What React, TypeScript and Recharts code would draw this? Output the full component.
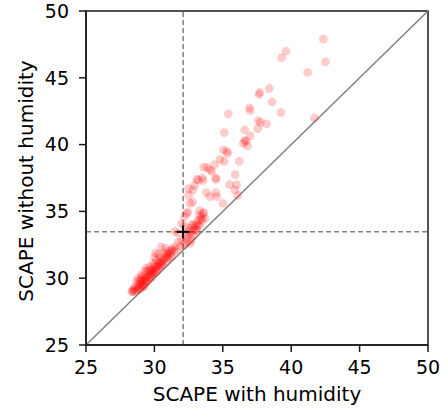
import { ScatterChart, Scatter, XAxis, YAxis, ReferenceLine, ReferenceArea } from 'recharts'

// SCAPE with humidity (x) / without humidity (y)
const scapeWithHumidity = [
  42.35, 39.62, 39.3, 42.5, 41.2, 38.4, 37.7, 37.65, 38.6, 36.95, 37.0, 35.4, 39.25, 41.7, 37.6, 37.75,
  38.2, 37.55, 36.6, 35.1, 37.0, 36.5, 36.7, 36.8, 36.6, 35.05, 35.35, 35.3, 34.8, 34.4, 35.1, 36.2,
  34.2, 35.9, 34.5, 33.6, 33.85, 34.05, 33.1, 33.5, 33.2, 33.55, 32.95, 34.5, 35.5, 36.0, 35.9, 33.8,
  34.5, 34.05, 34.55, 35.0, 32.5, 32.8, 32.5, 36.1, 32.8, 32.6, 32.35, 32.2, 32.45, 33.3, 33.55, 33.45,
  33.2, 33.7, 33.1, 32.85, 32.0, 32.2, 32.6, 31.75, 31.5, 33.1, 32.85, 32.7, 32.6, 32.0, 31.75, 31.5,
  31.25, 31.0, 30.8, 30.5, 31.25, 31.0, 30.75, 30.4, 30.15, 30.0, 29.9, 29.65, 29.4, 29.3, 29.05, 28.8,
  28.7, 28.6, 28.45, 28.35, 29.2, 29.4, 29.65, 29.9, 28.95, 29.2, 28.5, 28.7, 28.9, 29.0, 29.1, 29.3,
  29.5, 29.6, 29.8, 30.0, 30.1, 30.2, 30.3, 30.5, 30.6, 30.7, 30.9, 31.1, 29.0, 29.5, 28.8, 30.3,
  30.1, 29.8, 31.4, 31.6, 31.9, 32.2, 32.4, 32.9, 33.3, 33.5, 33.0, 32.35,
  28.4, 28.6, 28.8, 29.0, 29.1, 29.2, 29.3, 29.4, 29.5, 29.6, 29.7, 29.8, 29.9, 30.0, 30.1, 30.2,
  30.3, 30.4, 30.5, 30.6, 30.7, 30.8, 30.9, 31.0, 31.2, 31.3, 29.3, 29.7, 30.0, 30.4, 28.9, 29.1,
  32.6, 32.8, 33.0, 33.2, 33.4, 33.3, 33.6, 32.7, 32.5, 32.3,
]
const scapeWithoutHumidity = [
  47.9, 47.0, 46.5, 46.2, 45.4, 44.2, 43.9, 43.75, 43.2, 42.75, 42.55, 42.3, 42.4, 42.0, 41.8, 41.65,
  41.55, 41.2, 41.1, 40.9, 40.65, 40.1, 40.25, 39.9, 40.3, 39.6, 39.35, 39.5, 38.9, 38.5, 38.75, 38.75,
  38.0, 37.75, 37.5, 38.3, 38.3, 38.1, 37.4, 37.5, 37.35, 37.3, 36.95, 37.4, 37.0, 37.0, 36.6, 36.4,
  36.4, 36.1, 36.1, 35.6, 36.7, 36.6, 36.2, 36.2, 35.7, 35.6, 34.85, 34.6, 34.95, 35.05, 34.85, 34.6,
  34.35, 34.5, 34.1, 33.97, 34.1, 33.85, 33.7, 33.35, 33.5, 33.6, 33.2, 32.85, 32.6, 32.85, 32.7, 32.35,
  32.1, 32.0, 32.25, 32.35, 31.6, 31.5, 31.6, 31.5, 31.35, 31.6, 31.1, 30.85, 30.75, 30.5, 30.25, 30.0,
  29.75, 29.35, 29.1, 29.0, 29.85, 30.0, 30.25, 30.35, 29.6, 29.35, 29.2, 29.1, 29.3, 29.5, 29.7, 29.9,
  30.1, 30.5, 30.6, 30.8, 30.5, 30.9, 31.1, 31.0, 31.3, 31.9, 31.8, 31.9, 29.9, 30.6, 29.5, 31.8,
  31.9, 30.0, 32.0, 32.1, 32.4, 32.5, 33.0, 33.7, 34.0, 34.3, 33.9, 32.7,
  29.0, 29.0, 29.2, 29.2, 29.4, 29.6, 29.5, 29.7, 29.8, 30.0, 30.2, 30.3, 30.5, 30.4, 30.7, 30.6,
  30.9, 30.8, 31.2, 31.0, 31.4, 31.2, 31.5, 31.7, 31.8, 32.2, 30.2, 30.6, 31.0, 31.2, 29.8, 30.1,
  33.3, 33.5, 33.6, 33.9, 34.4, 34.7, 34.9, 34.0, 33.5, 33.2,
]

const axisTicks = [25, 30, 35, 40, 45, 50]
const xTitle = 'SCAPE with humidity'
const yTitle = 'SCAPE without humidity'
const centerWith = [32.1]
const centerWithout = [33.47]

const points = scapeWithHumidity.map((x, i) => ({ x, y: scapeWithoutHumidity[i] }))
const center = centerWith.map((x, i) => ({ x, y: centerWithout[i] }))

const font = '"DejaVu Sans", sans-serif'

const Dot = (p: any) => <circle cx={p.cx} cy={p.cy} r={4.4} fill="#ff0000" fillOpacity={0.2} />

const Plus = (p: any) => (
  <g stroke="#000" strokeWidth={2}>
    <line x1={p.cx - 6.5} x2={p.cx + 6.5} y1={p.cy} y2={p.cy} />
    <line x1={p.cx} x2={p.cx} y1={p.cy - 6.5} y2={p.cy + 6.5} />
  </g>
)

export default function App() {
  return (
    <div style={{ position: 'absolute', left: 0, top: 0, width: 448, height: 412, background: '#fff', fontFamily: font }}>
      <ScatterChart width={448} height={412} margin={{ top: 11, right: 20, bottom: 0, left: 0 }}>
        <XAxis
          type="number"
          dataKey="x"
          domain={[25, 50]}
          ticks={axisTicks}
          allowDataOverflow
          height={67}
          tickSize={7}
          tickMargin={9}
          stroke="#1a1a1a"
          strokeWidth={1.5}
          tick={{ fill: '#000', fontSize: 19, fontFamily: font }}
          label={() => (
            <text x={257} y={401} textAnchor="middle" fontSize={20} fontFamily={font} fill="#000">
              {xTitle}
            </text>
          )}
        />
        <YAxis
          type="number"
          dataKey="y"
          domain={[25, 50]}
          ticks={axisTicks}
          allowDataOverflow
          width={86}
          tickSize={7}
          tickMargin={10}
          stroke="#1a1a1a"
          strokeWidth={1.5}
          tick={{ fill: '#000', fontSize: 19, fontFamily: font }}
          label={() => (
            <text
              x={33}
              y={181}
              transform="rotate(-90, 33, 181)"
              textAnchor="middle"
              fontSize={20}
              fontFamily={font}
              fill="#000"
            >
              {yTitle}
            </text>
          )}
        />
        <Scatter data={points} shape={Dot} isAnimationActive={false} />
        <ReferenceLine
          segment={[{ x: 25, y: 25 }, { x: 50, y: 50 }]}
          stroke="#808080"
          strokeWidth={1.5}
        />
        <ReferenceLine x={centerWith[0]} stroke="#808080" strokeWidth={1.5} strokeDasharray="5 3" />
        <ReferenceLine y={centerWithout[0]} stroke="#808080" strokeWidth={1.5} strokeDasharray="5 3" />
        <ReferenceArea x1={25} x2={50} y1={25} y2={50} fill="none" stroke="#1a1a1a" strokeWidth={1.5} />
        <Scatter data={center} shape={Plus} isAnimationActive={false} />
      </ScatterChart>
    </div>
  )
}
